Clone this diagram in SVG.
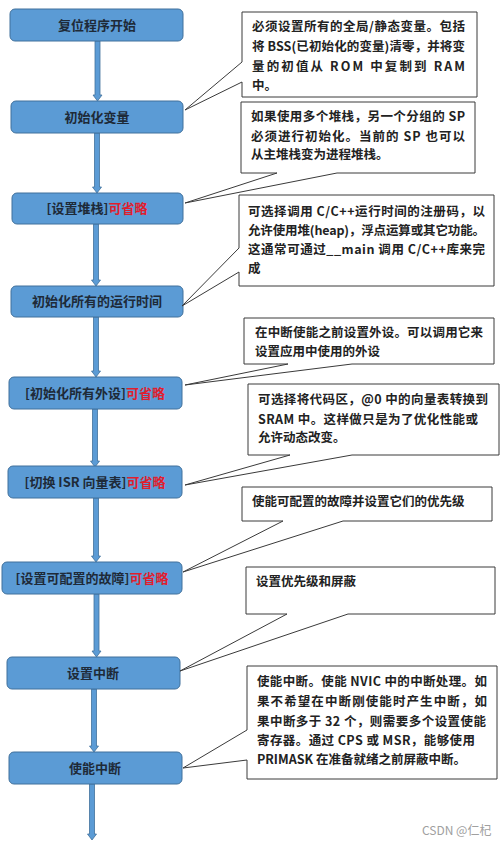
<svg xmlns="http://www.w3.org/2000/svg" width="504" height="845" viewBox="0 0 504 845">
<style>
.node{fill:#5b9bd5;stroke:#41719c;stroke-width:1}
.nt{font-family:"Noto Sans CJK SC","Liberation Sans",sans-serif;font-size:13px;font-weight:bold;fill:#1e2a38;text-anchor:middle}
.red{fill:#e01e2e}
.co{fill:#ffffff;stroke:#3a3a3a;stroke-width:1}
.ct{font-family:"Noto Sans CJK SC","Liberation Sans",sans-serif;font-size:12.5px;font-weight:bold;fill:#222222}
.arr{fill:#5b9bd5;stroke:#41719c;stroke-width:0.8}
.wm{font-family:"Noto Sans CJK SC","Liberation Sans",sans-serif;font-size:12px;fill:#a0a0a0}
</style>
<rect width="504" height="845" fill="#ffffff"/>
<g id="connectors">
<path class="arr" d="M95,41 H100 V95 H102 L97.5,101 L93,95 H95 Z"/>
<path class="arr" d="M94.5,133 H99.5 V187 H101.5 L97,193 L92.5,187 H94.5 Z"/>
<path class="arr" d="M93.5,224 H98.5 V280 H100.5 L96,286 L91.5,280 H93.5 Z"/>
<path class="arr" d="M93.5,317 H98.5 V371 H100.5 L96,377 L91.5,371 H93.5 Z"/>
<path class="arr" d="M92.5,409 H97.5 V461 H99.5 L95,467 L90.5,461 H92.5 Z"/>
<path class="arr" d="M93.5,498 H98.5 V556 H100.5 L96,562 L91.5,556 H93.5 Z"/>
<path class="arr" d="M94,594 H99 V651 H101 L96.5,657 L92,651 H94 Z"/>
<path class="arr" d="M91.5,689 H96.5 V746 H98.5 L94,752 L89.5,746 H91.5 Z"/>
<path class="arr" d="M89.5,784 H94.5 V834 H96.5 L92,840 L87.5,834 H89.5 Z"/>
</g>
<g id="n1"><rect class="node" x="10" y="9" width="173" height="32" rx="5"/><text class="nt" x="97" y="30">复位程序开始</text></g>
<g id="n2"><rect class="node" x="11" y="101" width="172" height="32" rx="5"/><text class="nt" x="97" y="122">初始化变量</text></g>
<g id="n3"><rect class="node" x="12" y="193" width="171" height="31" rx="5"/><text class="nt" x="97" y="213">[设置堆栈]<tspan class="red">可省略</tspan></text></g>
<g id="n4"><rect class="node" x="11" y="286" width="172" height="31" rx="5"/><text class="nt" x="97" y="306">初始化所有的运行时间</text></g>
<g id="n5"><rect class="node" x="9" y="377" width="173" height="32" rx="5"/><text class="nt" x="95" y="398">[初始化所有外设]<tspan class="red">可省略</tspan></text></g>
<g id="n6"><rect class="node" x="8" y="466" width="174" height="32" rx="5"/><text class="nt" x="95" y="487">[切换  ISR  向量表]<tspan class="red">可省略</tspan></text></g>
<g id="n7"><rect class="node" x="2" y="562" width="180" height="32" rx="5"/><text class="nt" x="92" y="583">[设置可配置的故障]<tspan class="red">可省略</tspan></text></g>
<g id="n8"><rect class="node" x="7" y="657" width="173" height="32" rx="5"/><text class="nt" x="93" y="678">设置中断</text></g>
<g id="n9"><rect class="node" x="9" y="752" width="173" height="32" rx="5"/><text class="nt" x="95" y="773">使能中断</text></g>
<g id="c1"><path class="co" d="M242,12 H477 V97 H242 V82 L185,110 L242,62 Z"/>
<text class="ct" x="252" y="31" textLength="213" lengthAdjust="spacing">必须设置所有的全局/静态变量。包括</text>
<text class="ct" x="252" y="51" textLength="213" lengthAdjust="spacing">将 BSS(已初始化的变量)清零，并将变</text>
<text class="ct" x="252" y="71" textLength="213" lengthAdjust="spacing">量的初值从 ROM 中复制到 RAM</text>
<text class="ct" x="252" y="90">中。</text></g>
<g id="c2"><path class="co" d="M241,102 H475 V173 H337 L185,203 L277,173 H241 Z"/>
<text class="ct" x="251" y="121" textLength="214" lengthAdjust="spacing">如果使用多个堆栈，另一个分组的 SP</text>
<text class="ct" x="251" y="141" textLength="214" lengthAdjust="spacing">必须进行初始化。当前的 SP 也可以</text>
<text class="ct" x="251" y="159">从主堆栈变为进程堆栈。</text></g>
<g id="c3"><path class="co" d="M239,195 H494 V286 H239 V272 L182,306 L239,248 Z"/>
<text class="ct" x="248" y="216" textLength="237" lengthAdjust="spacing">可选择调用 C/C++运行时间的注册码，以</text>
<text class="ct" x="248" y="235" textLength="237" lengthAdjust="spacing">允许使用堆(heap)，浮点运算或其它功能。</text>
<text class="ct" x="248" y="254" textLength="237" lengthAdjust="spacing">这通常可通过__main 调用 C/C++库来完</text>
<text class="ct" x="248" y="273">成</text></g>
<g id="c4"><path class="co" d="M244,318 H494 V364 H352 L185,385 L288,364 H244 Z"/>
<text class="ct" x="255" y="337" textLength="228" lengthAdjust="spacing">在中断使能之前设置外设。可以调用它来</text>
<text class="ct" x="255" y="356">设置应用中使用的外设</text></g>
<g id="c5"><path class="co" d="M248,384 H499 V455 H352 L185,485 L290,455 H248 Z"/>
<text class="ct" x="258" y="404" textLength="230" lengthAdjust="spacing">可选择将代码区，@0 中的向量表转换到</text>
<text class="ct" x="258" y="424" textLength="220" lengthAdjust="spacing">SRAM 中。这样做只是为了优化性能或</text>
<text class="ct" x="258" y="442">允许动态改变。</text></g>
<g id="c6"><path class="co" d="M242,487 H492 V521 H343 L183,572 L283,521 H242 Z"/>
<text class="ct" x="252" y="506">使能可配置的故障并设置它们的优先级</text></g>
<g id="c7"><path class="co" d="M246,567 H495 V614 H348 L180,671 L287,614 H246 Z"/>
<text class="ct" x="256" y="586">设置优先级和屏蔽</text></g>
<g id="c8"><path class="co" d="M247,666 H497 V779 H247 V760 L183,768 L247,730 Z"/>
<text class="ct" x="257" y="686" textLength="230" lengthAdjust="spacing">使能中断。使能 NVIC 中的中断处理。如</text>
<text class="ct" x="257" y="706" textLength="230" lengthAdjust="spacing">果不希望在中断刚使能时产生中断，如</text>
<text class="ct" x="257" y="726" textLength="229" lengthAdjust="spacing">果中断多于 32 个，则需要多个设置使能</text>
<text class="ct" x="257" y="745" textLength="218" lengthAdjust="spacing">寄存器。通过 CPS 或 MSR，能够使用</text>
<text class="ct" x="257" y="764">PRIMASK 在准备就绪之前屏蔽中断。</text></g>
<text class="wm" x="422" y="835">CSDN @仁杞</text>
</svg>
